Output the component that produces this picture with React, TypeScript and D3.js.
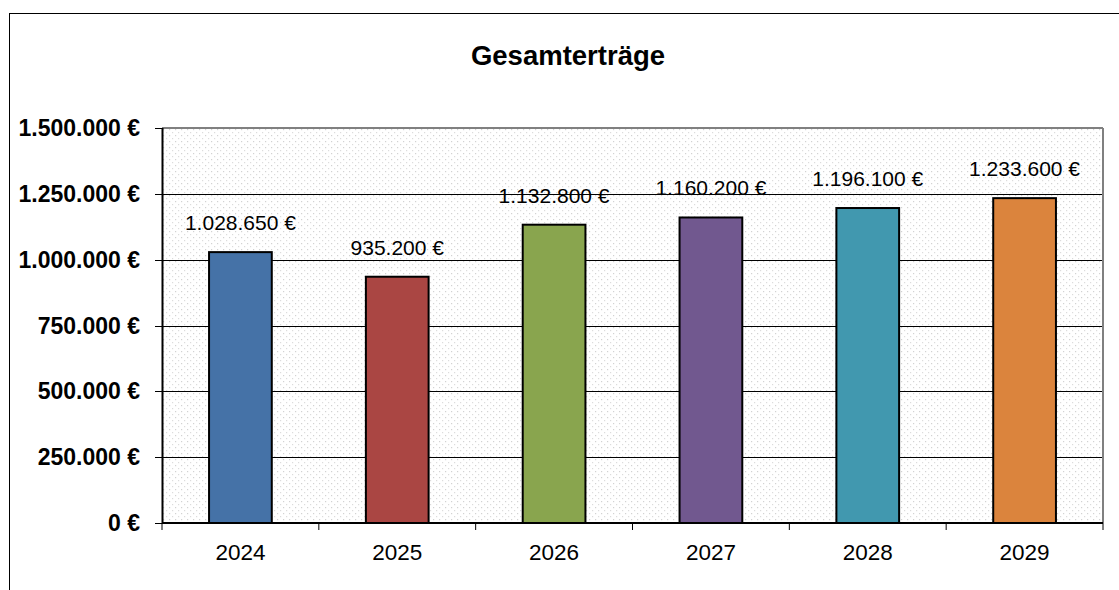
import { useMemo } from "react";
import * as d3 from "d3";

const years = ["2024", "2025", "2026", "2027", "2028", "2029"];
const totals = [1028650, 935200, 1132800, 1160200, 1196100, 1233600];
const barColors = ["#4572A7", "#AA4643", "#89A54E", "#71588F", "#4198AF", "#DB843D"];
const yTicks = [0, 250000, 500000, 750000, 1000000, 1250000, 1500000];

const W = 1119;
const H = 590;
const margin = { top: 128, right: 16, bottom: 67, left: 162 };
const font = "'Liberation Sans', Arial, sans-serif";

const fmt = (v: number) => d3.format(",")(v).replace(/,/g, ".") + " €";

export default function App() {
  const innerW = W - margin.left - margin.right;
  const innerH = H - margin.top - margin.bottom;

  const { x, y } = useMemo(() => {
    const x = d3.scaleBand().domain(years).range([0, innerW]).paddingInner(0).paddingOuter(0);
    const y = d3.scaleLinear().domain([0, 1500000]).range([innerH, 0]);
    return { x, y };
  }, [innerW, innerH]);

  const barW = x.bandwidth() * 0.4;

  return (
    <svg
      width={W}
      height={H}
      style={{ position: "absolute", left: 0, top: 0, background: "#fff" }}
      fontFamily={font}
    >
      <defs>
        <pattern id="dots" width="6" height="6" patternUnits="userSpaceOnUse">
          <rect width="6" height="6" fill="#fff" />
          <rect x="1" y="1" width="1.2" height="1.2" fill="#d2d2d2" />
          <rect x="4" y="4" width="1.2" height="1.2" fill="#dcdcdc" />
        </pattern>
      </defs>

      {/* chart frame */}
      <rect x={9.5} y={13.5} width={W + 20} height={H + 20} fill="none" stroke="#000" strokeWidth={1} />

      <text x={568} y={65} textAnchor="middle" fontSize={27.5} fontWeight="bold">
        Gesamterträge
      </text>

      <g transform={`translate(${margin.left},${margin.top})`}>
        <rect x={0} y={0} width={innerW} height={innerH} fill="url(#dots)" />

        {yTicks.slice(1, -1).map(t => (
          <line key={t} x1={0} x2={innerW} y1={Math.round(y(t)) + 0.5} y2={Math.round(y(t)) + 0.5} stroke="#000" strokeWidth={1} />
        ))}

        {/* grey plot border top + right */}
        <line x1={0} x2={innerW} y1={0} y2={0} stroke="#808080" strokeWidth={2} />
        <line x1={innerW} x2={innerW} y1={0} y2={innerH} stroke="#808080" strokeWidth={2} />

        {years.map((yr, i) => {
          const bx = (x(yr) ?? 0) + (x.bandwidth() - barW) / 2;
          return (
            <rect
              key={yr}
              x={bx}
              y={y(totals[i])}
              width={barW}
              height={innerH - y(totals[i])}
              fill={barColors[i]}
              stroke="#000"
              strokeWidth={2}
            />
          );
        })}

        {years.map((yr, i) => (
          <text
            key={yr}
            x={(x(yr) ?? 0) + x.bandwidth() / 2}
            y={y(totals[i]) - 22}
            textAnchor="middle"
            fontSize={21}
          >
            {fmt(totals[i])}
          </text>
        ))}

        {/* y axis */}
        <line x1={0.5} x2={0.5} y1={0} y2={innerH} stroke="#000" strokeWidth={2} />
        {yTicks.map(t => (
          <g key={t} transform={`translate(0,${Math.round(y(t)) + 0.5})`}>
            <line x1={-7} x2={0} stroke="#000" />
            <text x={-22} dy="0.33em" textAnchor="end" fontSize={23} fontWeight="bold">
              {t === 0 ? "0 €" : fmt(t)}
            </text>
          </g>
        ))}

        {/* x axis */}
        <line x1={0} x2={innerW} y1={innerH} y2={innerH} stroke="#000" strokeWidth={2} />
        {[...years.map(yr => x(yr) ?? 0), innerW].map((px, i) => (
          <line key={i} x1={px} x2={px} y1={innerH} y2={innerH + 7} stroke="#000" />
        ))}
        {years.map(yr => (
          <text
            key={yr}
            x={(x(yr) ?? 0) + x.bandwidth() / 2}
            y={innerH + 37}
            textAnchor="middle"
            fontSize={22.5}
          >
            {yr}
          </text>
        ))}
      </g>
    </svg>
  );
}
